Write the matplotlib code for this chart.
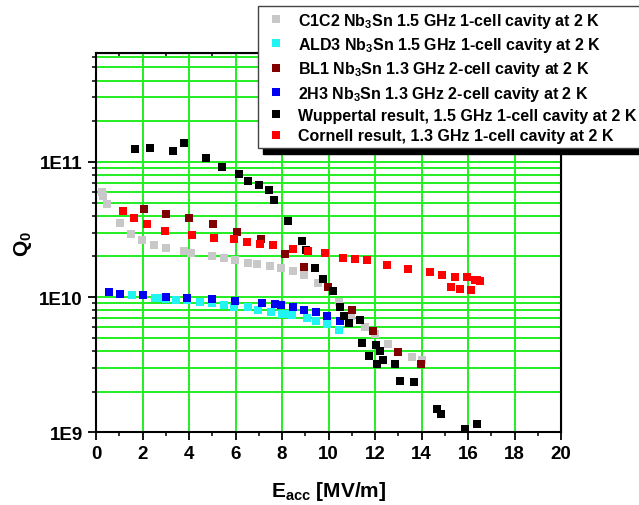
import numpy as np
import matplotlib
matplotlib.use('Agg')
import matplotlib.pyplot as plt
from matplotlib.ticker import MultipleLocator, LogLocator, NullFormatter, FuncFormatter

plt.rcParams['font.family'] = 'Liberation Sans'
plt.rcParams['font.weight'] = 'bold'
plt.rcParams['axes.labelweight'] = 'bold'
plt.rcParams['mathtext.fontset'] = 'custom'
plt.rcParams['mathtext.rm'] = 'Liberation Sans:bold'
plt.rcParams['mathtext.it'] = 'Liberation Sans:bold'
plt.rcParams['mathtext.bf'] = 'Liberation Sans:bold'
plt.rcParams['mathtext.default'] = 'rm'

################################## DATA ##################################
# C1C2 Nb3Sn 1.5 GHz 1-cell
c1c2_e = [0.26, 0.31, 0.49, 1.03, 1.49, 1.99, 2.48, 3.01, 3.78, 4.10, 5.00, 5.49, 5.99, 6.53,
          6.94, 7.48, 7.94, 8.46, 8.95, 9.53, 10.47, 10.95, 11.56, 12.0, 12.54, 13.58, 14.0]
c1c2_q = [6.0e10, 5.6e10, 4.9e10, 3.53e10, 2.91e10, 2.64e10, 2.44e10, 2.3e10, 2.18e10, 2.12e10,
          2.01e10, 1.95e10, 1.89e10, 1.8e10, 1.77e10, 1.7e10, 1.63e10, 1.55e10, 1.45e10, 1.27e10,
          9.2e9, 7.3e9, 6.0e9, 5.3e9, 4.5e9, 3.6e9, 3.43e9]

# ALD3 Nb3Sn 1.5 GHz 1-cell
ald3_e = [1.53, 2.54, 2.68, 3.0, 3.42, 3.9, 4.47, 4.98, 5.50, 5.94, 6.52, 6.98, 7.53, 7.98,
          8.2, 8.44, 9.06, 9.46, 9.95, 10.45]
ald3_q = [1.04e10, 9.84e9, 9.85e9, 9.7e9, 9.6e9, 9.5e9, 9.2e9, 9.0e9, 8.8e9, 8.5e9, 8.4e9,
          8.1e9, 7.8e9, 7.5e9, 7.45e9, 7.35e9, 6.98e9, 6.7e9, 6.3e9, 5.75e9]

# BL1 Nb3Sn 1.3 GHz 2-cell
bl1_e = [2.08, 3.02, 3.99, 5.03, 6.05, 7.11, 8.14, 8.96, 9.98, 11.03, 11.91, 12.97, 13.99]
bl1_q = [4.5e10, 4.14e10, 3.87e10, 3.45e10, 3.05e10, 2.7e10, 2.08e10, 1.66e10, 1.18e10,
         8.0e9, 5.66e9, 3.95e9, 3.2e9]

# 2H3 Nb3Sn 1.3 GHz 2-cell
h23_e = [0.57, 1.05, 2.02, 2.99, 3.93, 5.0, 5.98, 7.15, 7.68, 7.96, 8.49, 8.96, 9.45, 9.95, 10.49]
h23_q = [1.09e10, 1.06e10, 1.03e10, 1.0e10, 9.9e9, 9.7e9, 9.3e9, 9.1e9, 8.9e9, 8.7e9, 8.4e9,
         8.1e9, 7.7e9, 7.2e9, 6.7e9]

# Wuppertal 1.5 GHz 1-cell
wup_e = [1.68, 2.32, 3.30, 3.78, 4.72, 5.43, 6.15, 6.52, 7.02, 7.42, 7.66, 8.24, 8.86, 9.03,
         9.43, 9.76, 10.18, 10.48, 10.68, 10.88, 11.37, 11.43, 11.73, 12.04, 12.10, 12.23,
         12.36, 12.85, 13.06, 13.68, 14.68, 14.84, 15.86, 16.37]
wup_q = [1.24e11, 1.26e11, 1.21e11, 1.37e11, 1.07e11, 9.2e10, 8.2e10, 7.2e10, 6.8e10, 6.2e10,
         5.2e10, 3.67e10, 2.6e10, 2.24e10, 1.63e10, 1.37e10, 1.11e10, 8.4e9, 7.3e9, 6.45e9,
         6.76e9, 4.56e9, 3.67e9, 4.46e9, 3.22e9, 4.0e9, 3.45e9, 3.22e9, 2.41e9, 2.36e9,
         1.48e9, 1.37e9, 1.06e9, 1.16e9]

# Cornell 1.3 GHz 1-cell
cor_e = [1.18, 1.64, 2.21, 2.97, 4.13, 5.08, 5.94, 6.48, 7.05, 7.63, 8.46, 9.13, 9.83, 10.64,
         11.14, 11.64, 12.53, 13.43, 14.37, 14.87, 15.44, 15.97, 16.30, 16.40, 16.52,
         15.25, 15.65, 16.13]
cor_q = [4.35e10, 3.87e10, 3.49e10, 3.11e10, 2.86e10, 2.73e10, 2.67e10, 2.55e10, 2.47e10,
         2.41e10, 2.28e10, 2.2e10, 2.12e10, 1.96e10, 1.92e10, 1.88e10, 1.74e10, 1.62e10,
         1.53e10, 1.47e10, 1.42e10, 1.41e10, 1.35e10, 1.33e10, 1.31e10, 1.18e10, 1.15e10,
         1.13e10]

series = [
    (c1c2_e, c1c2_q, '#c8c8c8', 'C1C2 Nb$_3$Sn 1.5 GHz 1-cell cavity at 2 K'),
    (ald3_e, ald3_q, '#22f4f4', 'ALD3 Nb$_3$Sn 1.5 GHz 1-cell cavity at 2 K'),
    (bl1_e, bl1_q, '#800000', 'BL1 Nb$_3$Sn 1.3 GHz 2-cell cavity at 2 K'),
    (h23_e, h23_q, '#0000f0', '2H3 Nb$_3$Sn 1.3 GHz 2-cell cavity at 2 K'),
    (wup_e, wup_q, '#000000', 'Wuppertal result, 1.5 GHz 1-cell cavity at 2 K'),
    (cor_e, cor_q, '#ff0000', 'Cornell result, 1.3 GHz 1-cell cavity at 2 K'),
]

green = '#22ee22'

##########################################################################
fig = plt.figure(figsize=(6.39, 5.06), dpi=100)
ax = fig.add_axes([96/639, 1 - 433.3/506, 465/639, (433.3 - 54)/506])

for e, q, c, lab in series:
    ax.plot(e, q, ls='none', marker='s', ms=5.2, mew=0, color=c, label=lab, zorder=3)

ax.set_yscale('log')
ax.set_xlim(0, 20)
ax.set_ylim(1e9, 6.4e11)

ax.xaxis.set_major_locator(MultipleLocator(2))
ax.xaxis.set_minor_locator(MultipleLocator(1))
ax.yaxis.set_major_locator(LogLocator(base=10))
ax.yaxis.set_minor_locator(LogLocator(base=10, subs=np.arange(2, 10)))
ax.yaxis.set_major_formatter(FuncFormatter(lambda v, p: '1E%d' % int(round(np.log10(v)))))
ax.yaxis.set_minor_formatter(NullFormatter())

ax.set_axisbelow(True)
ax.yaxis.grid(True, which='both', color=green, lw=1.4)
ax.xaxis.grid(True, which='major', color=green, lw=1.4)

ax.tick_params(which='major', direction='out', length=6, width=1.3, labelsize=13.5)
ax.tick_params(which='minor', direction='out', length=3, width=1.1)
for s in ax.spines.values():
    s.set_linewidth(1.5)

top = ax.secondary_xaxis('top')
top.xaxis.set_major_locator(MultipleLocator(2))
top.xaxis.set_minor_locator(MultipleLocator(1))
top.xaxis.set_major_formatter(NullFormatter())
top.tick_params(which='major', direction='in', length=6, width=1.3)
top.tick_params(which='minor', direction='in', length=3, width=1.1)

right = ax.secondary_yaxis('right')
right.yaxis.set_major_locator(LogLocator(base=10))
right.yaxis.set_minor_locator(LogLocator(base=10, subs=np.arange(2, 10)))
right.yaxis.set_major_formatter(NullFormatter())
right.yaxis.set_minor_formatter(NullFormatter())
right.tick_params(which='major', direction='in', length=6, width=1.3)
right.tick_params(which='minor', direction='in', length=3, width=1.1)

ax.set_xlabel('E$_{acc}$ [MV/m]', fontsize=15, fontweight='bold', labelpad=12)
ax.set_ylabel('Q$_0$', fontsize=15, fontweight='bold', labelpad=4)

leg = ax.legend(loc='upper left', bbox_to_anchor=(258/639, 1 - 7/506),
                bbox_transform=fig.transFigure, borderaxespad=0, borderpad=0.3,
                handlelength=1.6, handletextpad=0.6, labelspacing=0.33, numpoints=1,
                prop={'size': 11.5, 'weight': 'bold'}, fancybox=False, framealpha=1,
                edgecolor='#444444',
                shadow={'color': 'black', 'alpha': 1, 'ox': 3.8, 'oy': -4.3})
leg.get_frame().set_linewidth(1.0)
leg.set_zorder(10)

fig.savefig('out.png', dpi=100)
